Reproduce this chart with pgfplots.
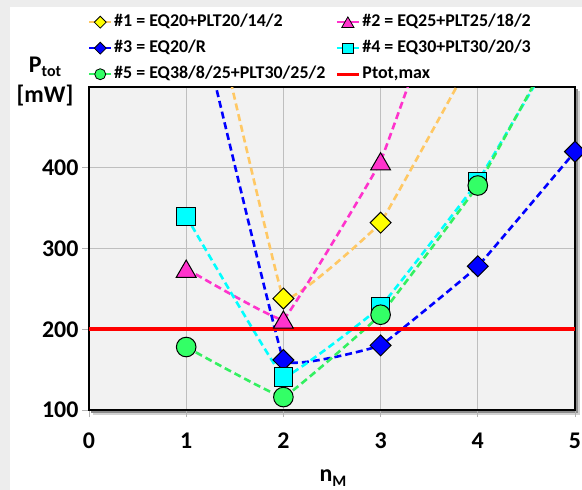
\documentclass[border=0pt]{standalone}
\usepackage{fontspec}
\setmainfont{Carlito}
\usepackage{pgfplots}
\pgfplotsset{compat=1.18}

\definecolor{cOrange}{HTML}{FFC864}
\definecolor{cYellow}{HTML}{FFFF00}
\definecolor{cPink}{HTML}{FF33CC}
\definecolor{cBlue}{HTML}{0000FF}
\definecolor{cCyan}{HTML}{00FFFF}
\definecolor{cGreen}{HTML}{33F060}
\definecolor{cGreenM}{HTML}{33FF66}
\definecolor{bgGray}{HTML}{F2F2F2}
\definecolor{cRed}{HTML}{FF0000}
\definecolor{edgeGray}{HTML}{EDEDED}

\tikzset{dline/.style={line width=2.6bp, dash pattern=on 7bp off 4bp, smooth, tension=0.1}}

\begin{document}
\begin{tikzpicture}
\path[use as bounding box] (-89bp,-80bp) rectangle (493bp,410bp);
\fill[edgeGray] (-89bp,-80bp) rectangle (493bp,410bp);
\fill[white] (-79bp,-80bp) rectangle (493bp,403bp);
\fill[black!18] (4bp,-5bp) rectangle (491bp,319bp);
\fill[black!45] (2bp,-3bp) rectangle (489bp,321bp);
\begin{axis}[
  scale only axis, width=486bp, height=323bp,
  xmin=0, xmax=5, ymin=100, ymax=500,
  xtick={0,1,2,3,4,5}, ytick={100,200,300,400},
  grid=major, major grid style={draw=black!25, line width=0.8bp},
  axis background/.style={fill=bgGray},
  axis line style={black, line width=1.6bp},
  tick align=outside, tick pos=left, major tick length=7bp,
  tick style={black!30, line width=0.8bp},
  ticklabel style={font=\bfseries\fontsize{24}{24}\selectfont},
  xticklabel style={yshift=-12bp},
  /pgf/number format/assume math mode=true,
  legend columns=2,
  legend cell align=left,
  legend style={draw=none, fill=none, at={(-0.002,1.2275)}, anchor=north west,
    font=\bfseries\fontsize{18}{18}\selectfont,
    nodes={inner ysep=1bp, text height=12bp, text depth=3bp},
    /tikz/every even column/.append style={column sep=8bp},
    row sep=9bp, inner sep=0pt},
  legend image code/.code={\draw[mark repeat=2,mark phase=2] plot coordinates {(0bp,0bp) (11bp,0bp) (22bp,0bp)};},
]
% #1
\addplot[cOrange, dline, forget plot] coordinates {(1,745)(2,238)(3,332)(4,548)};
\addplot[only marks, forget plot, mark=square*, mark size=7.4bp, mark options={rotate=45, fill=cYellow, draw=black, line width=1bp, solid}] coordinates {(2,238)(3,332)};
% #2
\addplot[cPink, dline, forget plot] coordinates {(1,275)(2,212)(3,408)(4,744)};
\addplot[only marks, forget plot, mark=triangle*, mark size=11.5bp, mark options={yshift=-2.9bp, fill=cPink, draw=black, line width=1bp, solid}] coordinates {(1,275)(2,212)(3,408)};
% #3
\addplot[cBlue, dline, forget plot] coordinates {(1,655)(2,162)(3,180)(4,278)(5,420)};
\addplot[only marks, forget plot, mark=square*, mark size=7.4bp, mark options={rotate=45, fill=cBlue, draw=black, line width=1bp, solid}] coordinates {(2,162)(3,180)(4,278)(5,420)};
% #4
\addplot[cCyan, dline, forget plot] coordinates {(1,340)(2,141)(3,228)(4,383)(5,588)};
\addplot[only marks, forget plot, mark=square*, mark size=9.2bp, mark options={fill=cCyan, draw=black, line width=1bp, solid}] coordinates {(1,340)(2,141)(3,228)(4,383)};
% #5
\addplot[cGreen, dline, forget plot] coordinates {(1,178)(2,116)(3,218)(4,378)(5,596)};
\addplot[only marks, forget plot, mark=*, mark size=9.8bp, mark options={fill=cGreenM, draw=black, line width=1bp, solid}] coordinates {(1,178)(2,116)(3,218)(4,378)};
% Ptot,max
\addplot[cRed, line width=4bp, forget plot] coordinates {(0,200)(5,200)};

\addlegendimage{cOrange, line width=2bp, mark=square*, mark size=4.2bp, mark options={rotate=45, fill=cYellow, draw=black, line width=0.8bp}}
\addlegendentry{\#1 = EQ20+PLT20/14/2}
\addlegendimage{cPink, line width=2bp, mark=triangle*, mark size=7bp, mark options={yshift=-1.7bp, fill=cPink, draw=black, line width=0.8bp}}
\addlegendentry{\#2 = EQ25+PLT25/18/2}
\addlegendimage{cBlue, line width=2bp, mark=square*, mark size=4.2bp, mark options={rotate=45, fill=cBlue, draw=black, line width=0.8bp}}
\addlegendentry{\#3 = EQ20/R}
\addlegendimage{cCyan, line width=2bp, mark=square*, mark size=5.3bp, mark options={fill=cCyan, draw=black, line width=0.8bp}}
\addlegendentry{\#4 = EQ30+PLT30/20/3}
\addlegendimage{cGreen, line width=2bp, mark=*, mark size=5.5bp, mark options={fill=cGreenM, draw=black, line width=0.8bp}}
\addlegendentry{\#5 = EQ38/8/25+PLT30/25/2}
\addlegendimage{cRed, line width=3bp}
\addlegendentry{Ptot,max}
\end{axis}
\node[font=\bfseries\fontsize{24}{24}\selectfont] at (-44bp,343bp) {P\raisebox{-0.35ex}{\fontsize{16}{16}\selectfont tot}};
\node[font=\bfseries\fontsize{24}{24}\selectfont] at (-44bp,314bp) {[mW]};
\node[font=\bfseries\fontsize{24}{24}\selectfont] at (244bp,-68bp) {n\raisebox{-0.4ex}{\fontsize{16}{16}\selectfont M}};
\end{tikzpicture}
\end{document}
